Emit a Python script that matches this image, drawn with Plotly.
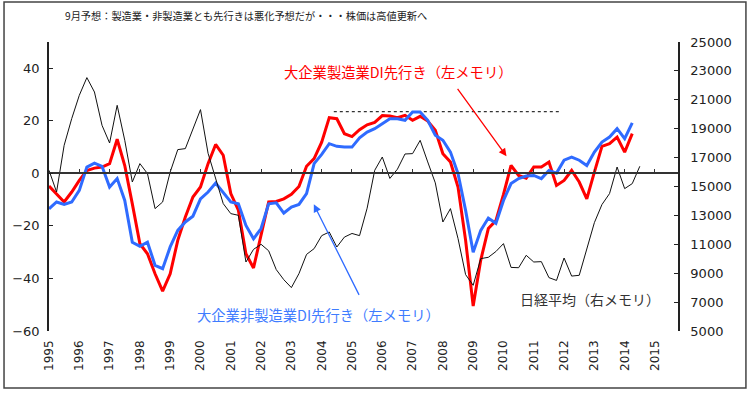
import plotly.graph_objects as go

# ---------------- data (quarterly, 1995Q1 onward) ----------------
start_year = 1995
mfg_di = [-4.8, -7.7, -10.9, -7.1, -2.7, 1.1, 2.0, 2.4, 3.7, 13.0,
          3.0, -11.6, -26.8, -30.6, -38.2, -44.8, -38.2, -25.5, -16.6, -9.0,
          -5.2, 3.7, 11.0, 6.9, -7.7, -14.0, -30.6, -36.0, -24.0, -10.9,
          -10.7, -9.7, -8.0, -5.0, 2.7, 5.6, 11.9, 21.2, 20.8, 15.1,
          14.0, 16.6, 18.5, 19.4, 22.0, 21.8, 21.2, 22.1, 20.2, 21.7,
          19.9, 16.4, 7.5, 4.3, -5.2, -25.5, -50.5, -33.0, -21.0, -18.0,
          -8.0, 3.0, -0.8, -1.8, 2.4, 2.4, 4.3, -4.6, -2.7, 1.1,
          -3.3, -9.7, 0.5, 10.3, 11.3, 13.8, 8.1, 15.1]
nonmfg_di = [-13.5, -10.9, -11.8, -10.9, -6.5, 2.4, 3.9, 2.7, -5.2, -2.0,
             -10.3, -26.2, -27.8, -26.2, -35.0, -36.3, -28.0, -21.7, -18.5, -16.3,
             -9.7, -7.1, -3.7, -7.1, -10.9, -11.6, -19.8, -24.9, -21.0, -11.6,
             -11.2, -15.1, -12.8, -11.8, -7.7, 3.7, 7.2, 11.3, 10.3, 10.0,
             10.0, 13.5, 15.7, 17.0, 18.9, 20.8, 20.8, 20.2, 23.4, 23.4,
             20.2, 14.5, 12.6, 8.1, -0.1, -14.1, -30.0, -21.7, -17.0, -19.0,
             -10.3, -3.9, -2.0, -1.0, -0.8, -2.0, 1.1, 0.1, 5.0, 6.2,
             5.0, 3.0, 8.1, 11.9, 13.8, 17.0, 13.2, 19.2]
nikkei = [16120, 14620, 17850, 19700, 21310, 22535, 21540, 19234, 18010, 20618,
          18196, 15311, 16584, 15892, 13470, 13927, 16003, 17553, 17622, 19006,
          20321, 17300, 15500, 13816, 13124, 13006, 9775, 10650, 11000, 10550,
          9250, 8550, 8003, 8972, 10300, 10700, 11600, 11851, 10813, 11500,
          11750, 11600, 13500, 16120, 17041, 15560, 16200, 17250, 17276, 18196,
          16700, 15250, 12543, 13470, 11400, 8900, 8162, 10010, 10100, 10500,
          11048, 9400, 9380, 10238, 9775, 9800, 8695, 8500, 10052, 8800,
          8854, 10600, 12500, 13750, 14508, 16349, 14854, 15200, 16400]
year_ticks = list(range(1995, 2016))
year_labels = [str(y) for y in year_ticks]
left_ticks = [-60, -40, -20, 0, 20, 40]
right_ticks = list(range(5000, 25001, 2000))
peak_ref_years = [2004.4, 2011.85]
peak_ref_level = [23.5, 23.5]

title_text = "9月予想：製造業・非製造業とも先行きは悪化予想だが・・・株価は高値更新へ"
label_mfg = "大企業製造業DI先行き（左メモリ）"
label_nonmfg = "大企業非製造業DI先行き（左メモリ）"
label_nikkei = "日経平均（右メモリ）"

def qx(n):
    return [start_year + i / 4 for i in range(n)]

RED = "#ff0000"
BLUE = "#2f6bff"
CJK = "Noto Sans CJK JP"
NUM = "DejaVu Sans"

fig = go.Figure()
fig.add_trace(go.Scatter(x=qx(len(nikkei)), y=nikkei, yaxis="y2", mode="lines",
                         line=dict(color="#111111", width=1), showlegend=False))
fig.add_trace(go.Scatter(x=peak_ref_years, y=peak_ref_level, mode="lines",
                         line=dict(color="#333333", width=1.3, dash="3px,3px"), showlegend=False))
fig.add_trace(go.Scatter(x=qx(len(mfg_di)), y=mfg_di, mode="lines",
                         line=dict(color=RED, width=3), showlegend=False))
fig.add_trace(go.Scatter(x=qx(len(nonmfg_di)), y=nonmfg_di, mode="lines",
                         line=dict(color=BLUE, width=3), showlegend=False))
# carrier trace for the zero-line tick axis
fig.add_trace(go.Scatter(x=[], y=[], xaxis="x2", yaxis="y", showlegend=False, hoverinfo="skip"))

xr = [1995, 2015.76]
fig.update_layout(
    width=750, height=393,
    margin=dict(l=49, r=72, t=42, b=62),
    paper_bgcolor="white", plot_bgcolor="white",
    showlegend=False,
    xaxis=dict(range=xr, tickvals=year_ticks, ticktext=year_labels, tickangle=-90,
               showline=False, ticks="", showgrid=False, zeroline=False,
               tickfont=dict(family=NUM, size=12, color="#222222"), ticklabelstandoff=6),
    xaxis2=dict(range=xr, overlaying="x", anchor="free", position=60 / 110, side="bottom",
                tickvals=year_ticks, ticks="inside", ticklen=4, tickcolor="#333333",
                showline=True, linecolor="#333333", linewidth=1.5,
                showticklabels=False, showgrid=False, zeroline=False),
    yaxis=dict(range=[-60, 50], tickvals=left_ticks, showline=True, linecolor="#222222",
               linewidth=1.5, ticks="inside", ticklen=4, tickcolor="#222222",
               showgrid=False, zeroline=False,
               tickfont=dict(family=NUM, size=13, color="#222222"), ticklabelstandoff=5),
    yaxis2=dict(range=[5000, 25000], tickvals=right_ticks, tickformat="d",
                overlaying="y", side="right",
                showline=True, linecolor="#222222", linewidth=1.5, ticks="inside",
                ticklen=4, tickcolor="#222222", showgrid=False, zeroline=False,
                tickfont=dict(family=NUM, size=13, color="#222222"), ticklabelstandoff=8),
)

fig.add_shape(type="rect", xref="paper", yref="paper",
              x0=-0.0715, x1=1.108, y0=-0.197, y1=1.138,
              line=dict(color="#444444", width=1.5), fillcolor="rgba(0,0,0,0)", layer="below")

fig.add_annotation(text=title_text, xref="paper", yref="paper", x=0.3135, y=1.092,
                   xanchor="center", yanchor="middle", showarrow=False,
                   font=dict(family=CJK, size=10.2, color="#222222"))
fig.add_annotation(text=label_mfg, xref="paper", yref="paper", x=0.5556, y=0.897,
                   xanchor="center", yanchor="middle", showarrow=False,
                   font=dict(family=CJK, size=14.3, color=RED))
fig.add_annotation(text=label_nonmfg, xref="paper", yref="paper", x=0.4285, y=0.0588,
                   xanchor="center", yanchor="middle", showarrow=False,
                   font=dict(family=CJK, size=14.3, color="#3f7cff"))
fig.add_annotation(text=label_nikkei, xref="paper", yref="paper", x=0.860, y=0.1107,
                   xanchor="center", yanchor="middle", showarrow=False,
                   font=dict(family=CJK, size=14, color="#333333"))
# arrows
fig.add_annotation(x=2010.10, y=6.5, xref="x", yref="y", ax=-50, ay=-69, text="",
                   showarrow=True, arrowhead=2, arrowsize=1.2, arrowwidth=1.3, arrowcolor=RED)
fig.add_annotation(x=2003.74, y=-11.8, xref="x", yref="y", ax=46, ay=92, text="",
                   showarrow=True, arrowhead=2, arrowsize=1.2, arrowwidth=1.3, arrowcolor=BLUE)

fig.write_html("out.html", config={"displayModeBar": False},
               post_script="document.body.style.margin='0';")
